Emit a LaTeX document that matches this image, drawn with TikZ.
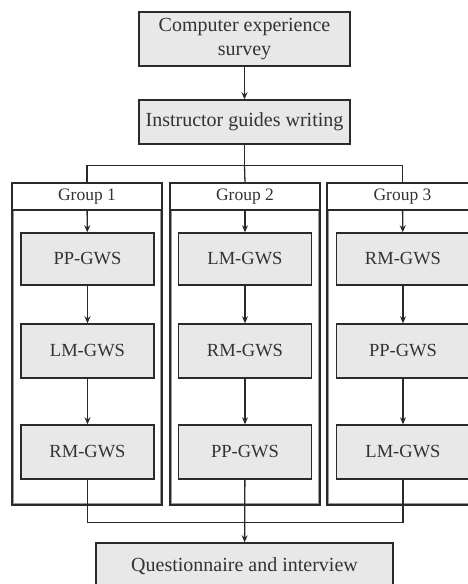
\documentclass[tikz,border=0pt]{standalone}
\usepackage{fontspec}
\setmainfont{Liberation Serif}
\usetikzlibrary{arrows.meta}
\definecolor{boxfill}{HTML}{E8E8E8}
\definecolor{linec}{HTML}{2A2A2A}
\definecolor{innerc}{HTML}{9A9A9A}
\definecolor{textc}{HTML}{333333}
\tikzset{
  mainbox/.style={draw=linec, fill=boxfill, line width=1.5pt, text=textc, align=center,
    inner sep=0pt, font=\fontsize{20}{24.5}\selectfont},
  gwsbox/.style={draw=linec, fill=boxfill, line width=1.5pt, text=textc, inner sep=0pt,
    minimum width=133pt, font=\fontsize{18.5}{22}\selectfont},
  grphead/.style={draw=linec, fill=white, line width=1.3pt, text=textc, inner sep=0pt,
    minimum width=150pt, minimum height=27pt, font=\fontsize{17.5}{20}\selectfont},
  grpbody/.style={draw=linec, line width=1.3pt,
    inner sep=0pt, minimum width=150pt, minimum height=295pt},
  grpinner/.style={draw=innerc, line width=0.8pt},
  conn/.style={draw=linec, line width=1.3pt},
  arr/.style={conn, -{Stealth[length=7pt,width=6pt]}},
}
\begin{document}
\begin{tikzpicture}[x=1pt,y=-1pt]
\useasboundingbox (0,0) rectangle (468,584);
\clip (0,0) rectangle (468,584);
\fill[white] (0,0) rectangle (468,584);
% group bodies
\node[grpbody] (g1b) at (87,357.5) {};
\node[grpbody] (g2b) at (245,357.5) {};
\node[grpbody, minimum width=151pt] (g3b) at (402.5,357.5) {};
\foreach \g in {g1b,g2b,g3b}
  \draw[grpinner] ([xshift=2.3pt]\g.north west) rectangle ([xshift=-2.3pt,yshift=2.3pt]\g.south east);
% group headers
\node[grphead] (g1h) at (87,196.5) {Group 1};
\node[grphead] (g2h) at (245,196.5) {Group 2};
\node[grphead, minimum width=151pt] (g3h) at (402.5,196.5) {Group 3};
% main boxes
\node[mainbox, minimum width=211pt, minimum height=54pt] (survey) at (244.5,39) {Computer experience\\survey};
\node[mainbox, minimum width=211pt, minimum height=44pt] (instr) at (244.5,122) {Instructor guides writing};
\node[mainbox, minimum width=297pt, minimum height=47pt] (quest) at (244.5,566.5) {Questionnaire and interview};
% group 1
\node[gwsbox, minimum height=52pt] (a1) at (87.5,259) {PP-GWS};
\node[gwsbox, minimum height=54pt] (a2) at (87.5,351) {LM-GWS};
\node[gwsbox, minimum height=54pt] (a3) at (87.5,452) {RM-GWS};
% group 2
\node[gwsbox, minimum height=52pt] (b1) at (245,259) {LM-GWS};
\node[gwsbox, minimum height=54pt] (b2) at (245,351) {RM-GWS};
\node[gwsbox, minimum height=54pt] (b3) at (245,452) {PP-GWS};
% group 3
\node[gwsbox, minimum height=52pt] (c1) at (403,259) {RM-GWS};
\node[gwsbox, minimum height=54pt] (c2) at (403,351) {PP-GWS};
\node[gwsbox, minimum height=54pt] (c3) at (403,452) {LM-GWS};
% connectors
\draw[arr] (survey) -- (instr);
\coordinate (bus) at (244.5,166);
\draw[conn] (instr.south) -- (bus);
\draw[conn] (g1h.north) -- ++(0,-17) -| (g3h.north);
\draw[conn] (bus) -- (g2h.north);
\draw[arr] (g1h) -- (a1);
\draw[arr] (a1) -- (a2);
\draw[arr] (a2) -- (a3);
\draw[arr] (g2h) -- (b1);
\draw[arr] (b1) -- (b2);
\draw[arr] (b2) -- (b3);
\draw[arr] (g3h) -- (c1);
\draw[arr] (c1) -- (c2);
\draw[arr] (c2) -- (c3);
\draw[conn] (a3.south) -- ++(0,43) -| (c3.south);
\draw[arr] (b3) -- (quest);
\end{tikzpicture}
\end{document}
